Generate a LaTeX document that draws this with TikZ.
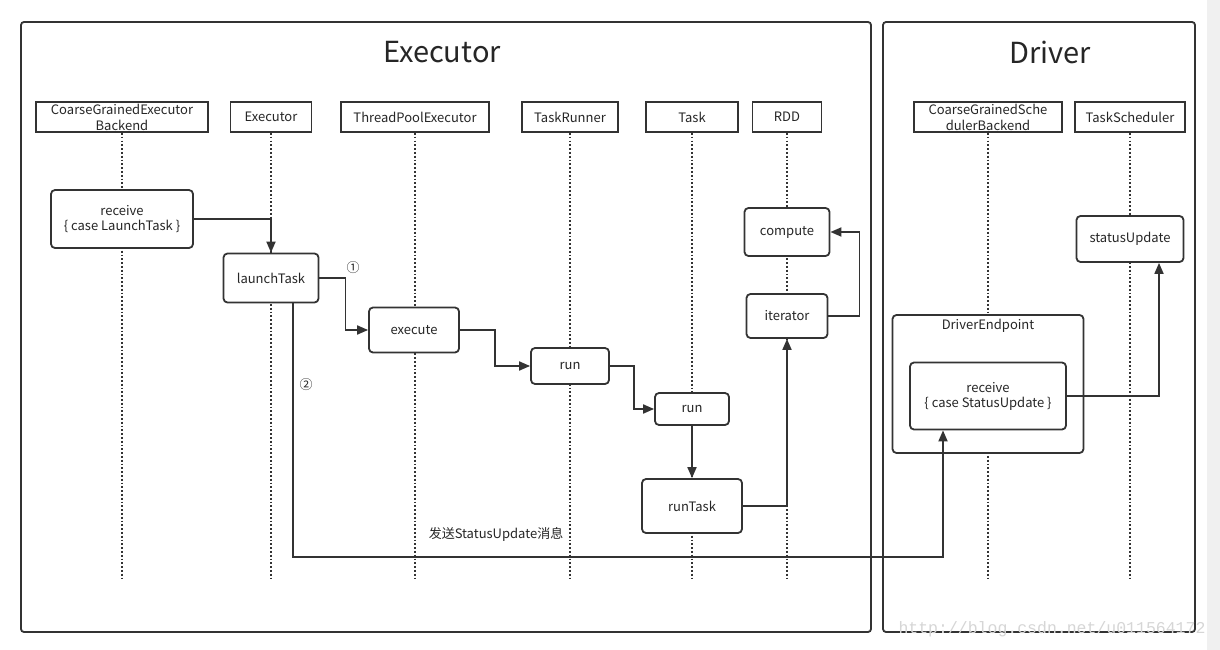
\documentclass[tikz,border=0pt]{standalone}
\usepackage{fontspec}
\setmainfont{Noto Sans CJK SC}
\newfontfamily\markfont{Liberation Mono}
\usetikzlibrary{arrows.meta}
\begin{document}
\begin{tikzpicture}[x=1pt,y=-1pt,
    every node/.style={font=\fontsize{13}{15}\selectfont,text=black!85},
    frame/.style={draw=black!80,line width=1.8pt,rounded corners=3pt},
    head/.style={draw=black!80,line width=1.8pt,minimum height=30pt,inner sep=1pt,align=center},
    act/.style={draw=black!80,fill=white,line width=1.8pt,rounded corners=4pt,align=center,inner sep=1pt},
    life/.style={draw=black!80,line width=1.8pt,dash pattern=on 1.8pt off 2pt},
    msg/.style={draw=black!80,line width=1.8pt,-{Triangle[length=11pt,width=9pt]}},
    title/.style={font=\fontsize{29}{32}\selectfont}]
    % page
    \useasboundingbox (0,0) rectangle (1220,650);
    \fill[white] (0,0) rectangle (1220,650);
    \fill[black!6] (1207,0) rectangle (1220,650);
    % frames
    \draw[frame] (21,22) rectangle (871,632);
    \draw[frame] (883,22) rectangle (1195,632);
    \node[title] (exTitle) at (442,52) {Executor};
    \node[title] (drTitle) at (1050,52) {Driver};
    % heads
    \node[head,minimum width=172pt] (cgeb) at (122,117) {CoarseGrainedExecutor\\[1pt]Backend};
    \node[head,minimum width=81pt] (executor) at (271,117) {Executor};
    \node[head,minimum width=148pt] (pool) at (415,117) {ThreadPoolExecutor};
    \node[head,minimum width=96pt] (runner) at (570,117) {TaskRunner};
    \node[head,minimum width=92pt] (task) at (692,117) {Task};
    \node[head,minimum width=69pt] (rdd) at (787,117) {RDD};
    \node[head,minimum width=148pt] (cgsb) at (988,117) {CoarseGrainedSche\\[1pt]dulerBackend};
    \node[head,minimum width=110pt] (sched) at (1130,117) {TaskScheduler};
    % lifelines
    \coordinate (bottom) at (0,578);
    \foreach \h in {cgeb,executor,pool,runner,task,rdd,cgsb,sched}
        \draw[life] (\h.south) -- (\h.south |- bottom);
    % activations
    \node[act,minimum width=142pt,minimum height=58pt] (recvLT) at (122,219) {receive\\[0pt]\{ case LaunchTask \}};
    \node[act,minimum width=95pt,minimum height=49pt] (launch) at (271,278) {launchTask};
    \node[act,minimum width=90pt,minimum height=45pt] (exec) at (414,330) {execute};
    \node[act,minimum width=78pt,minimum height=36pt] (runA) at (570,366) {run};
    \node[act,minimum width=74pt,minimum height=32pt] (runB) at (692,409) {run};
    \node[act,minimum width=100pt,minimum height=54pt] (runTask) at (692,506) {runTask};
    \node[act,minimum width=85pt,minimum height=48pt] (compute) at (787,232) {compute};
    \node[act,minimum width=81pt,minimum height=44pt] (iter) at (787,316) {iterator};
    \node[act,minimum width=107pt,minimum height=46pt] (status) at (1130,239) {statusUpdate};
    \node[act,minimum width=191pt,minimum height=138pt] (endpoint) at (988,384) {};
    \node (epLabel) at (988,326) {DriverEndpoint};
    \node[act,minimum width=156pt,minimum height=67pt] (recvSU) at (988,396) {receive\\[0pt]\{ case StatusUpdate \}};
    % messages
    \draw[msg] (recvLT.east) -| (launch.north);
    \draw[msg] (launch.east) -- ++(26,0) |- (exec.west);
    \node (one) at (353,268) {①};
    \draw[msg] (exec.east) -- ++(35,0) |- (runA.west);
    \draw[msg] (runA.east) -- ++(24,0) |- (runB.west);
    \draw[msg] (runB.south) -- (runTask.north);
    \draw[msg] (runTask.east) -| (iter.south);
    \draw[msg] (iter.east) -- ++(31,0) |- (compute.east);
    \coordinate (sendL) at (293,557);
    \coordinate (sendR) at (943,557);
    \draw[msg] (launch.south -| sendL) -- (sendL) -- (sendR) -- (sendR |- recvSU.south);
    \node (two) at (306,385) {②};
    \node (sendLabel) at (496,534) {发送StatusUpdate消息};
    \draw[msg] (recvSU.east) -| ([xshift=29pt]status.south);
    % watermark
    \node[font=\markfont\fontsize{16.5}{17}\selectfont,text=black!16] (mark) at (1052,629) {http://blog.csdn.net/u011564172};
\end{tikzpicture}
\end{document}
